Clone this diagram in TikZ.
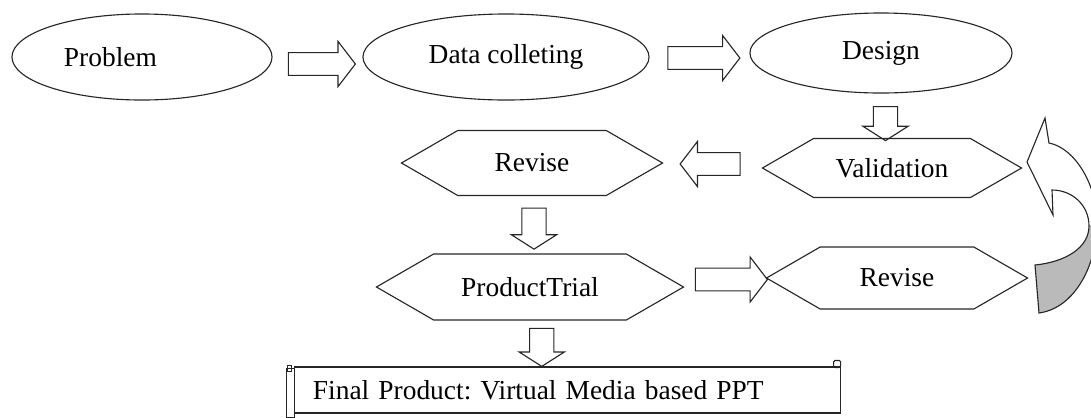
\documentclass[tikz,border=0pt]{standalone}
\usepackage{fontspec}
\setmainfont{Liberation Serif}
\usepackage{tikz}
\usetikzlibrary{shapes,shapes.arrows,shapes.symbols,calc}
\frenchspacing

\begin{document}
\begin{tikzpicture}[x=0.025cm,y=-0.025cm]
\tikzstyle{stage}=[ellipse, draw=black!85, line width=0.8pt, inner sep=0pt, minimum height=2.15cm, font=\fontsize{19.5}{23}\selectfont]
\tikzstyle{hexa}=[signal, signal to=west and east, signal pointer angle=60, draw=black!85, line width=0.8pt, inner sep=0pt, font=\fontsize{19.5}{23}\selectfont]
\tikzstyle{scroll}=[rectangle, draw=black!85, line width=0.8pt, minimum width=13.625cm, minimum height=1.15cm, inner xsep=0.45cm, text width=12.725cm, align=left, font=\fontsize{19.5}{23}\selectfont]
\tikzstyle{harrow}=[single arrow, draw=black!85, line width=0.8pt, inner xsep=0pt, inner ysep=0.27cm, single arrow head extend=0.28cm, single arrow tip angle=105]
\tikzstyle{varrow}=[single arrow, draw=black!85, line width=0.8pt, shape border rotate=270, inner ysep=0pt, inner xsep=0.29cm, single arrow head extend=0.26cm, single arrow tip angle=115]
\tikzstyle{curl}=[draw=black!85, line width=0.8pt]
\useasboundingbox (0,0) rectangle (1091,417);
	\node[stage, minimum width=6.5cm, text width=3.9cm, align=left] (problem) at (142,57) {Problem};
	\node[stage, minimum width=7.15cm] (data) at (506,57) {Data colleting};
	\node[stage, minimum width=6.55cm, minimum height=2.0cm] (design) at (881,53) {Design};

	\node[hexa, minimum width=6.475cm, minimum height=1.475cm] (valid) at (892,168) {Validation};
	\node[hexa, minimum width=6.525cm, minimum height=1.625cm] (revise1) at (532,163) {Revise};
	\node[hexa, minimum width=7.675cm, minimum height=1.65cm] (trial) at (530,287) {ProductTrial};
	\node[hexa, minimum width=6.525cm, minimum height=1.55cm] (revise2) at (897,278) {Revise};

	\node[scroll] (final) at (567.5,390) {Final Product: Virtual Media based PPT};

	\node[harrow, minimum height=1.675cm] (a_1) at ($(problem.east)!0.5!(data.west)+(0,7)$) {};
	\node[harrow, minimum height=1.8cm] (a_2) at ($(data.east)!0.5!(design.west)+(0,3)$) {};
	\node[varrow, minimum height=0.85cm] (a_3) at ($(design.south)!0.5!(valid.north)+(-1,4)$) {};
	\node[harrow, shape border rotate=180, minimum height=1.5cm] (a_4) at ($(valid.west)!0.5!(revise1.east)+(2,-1.5)$) {};
	\node[varrow, minimum height=1.025cm] (a_5) at ($(revise1.south)!0.5!(trial.north)+(3,0)$) {};
	\node[harrow, minimum height=1.8cm] (a_6) at ($(trial.east)!0.5!(revise2.west)+(2,-3)$) {};
	\node[varrow, minimum height=0.95cm] (a_7) at ($(trial.south)!0.5!(final.north)+(-7,0)$) {};

	% scroll ends
	\draw[curl] ([shift={(-8,2)}]final.north west) rectangle ([shift={(0,4)}]final.south west);
	\draw[curl] ([shift={(-7,-1)}]final.north west) rectangle ([shift={(-3,5)}]final.north west);
	\draw[curl, rounded corners=1pt] ([shift={(-7,1)}]final.north east) rectangle ([shift={(0,-6)}]final.north east);

	% curved arrow back to validation
	\begin{scope}
	\clip (0,0) rectangle (1091,417);
	\fill[black!27] (1035,265) .. controls (1065,262) and (1089,248) .. (1089,226) -- (1097,222) .. controls (1097,265) and (1075,308) .. (1039,313) -- cycle;
	\draw[curl] (1049,143) .. controls (1075,148) and (1097,185) .. (1097,222) .. controls (1097,265) and (1075,308) .. (1039,313) -- (1035,265) .. controls (1065,262) and (1089,248) .. (1089,226) .. controls (1089,205) and (1072,190) .. (1052,190) -- (1053,215) -- (1027,162) -- (1045,118) -- cycle;
	\end{scope}
\end{tikzpicture}
\end{document}
